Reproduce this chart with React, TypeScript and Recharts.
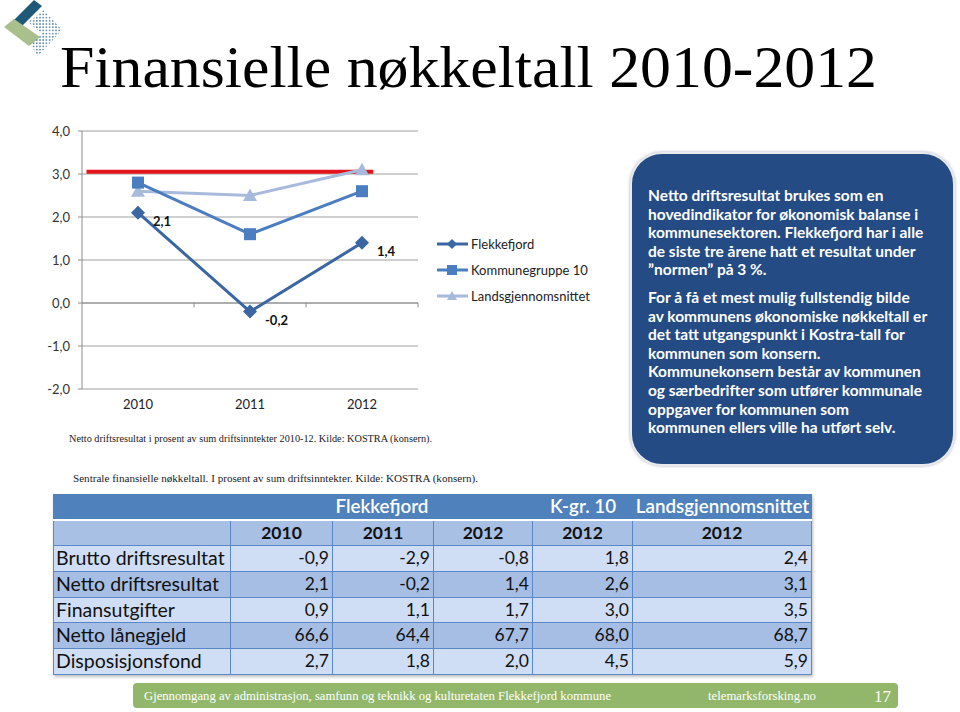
import React from "react";
import {
  LineChart,
  Line,
  XAxis,
  YAxis,
  CartesianGrid,
  ReferenceLine,
  LabelList,
} from "recharts";

// chart data
const years = ["2010", "2011", "2012"];
const flekkefjord = [2.1, -0.2, 1.4];
const kommunegruppe10 = [2.8, 1.6, 2.6];
const landsgjennomsnitt = [2.6, 2.5, 3.1];
const yTicks = [-2, -1, 0, 1, 2, 3, 4];
const normen = 3.05;

const seriesNames = ["Flekkefjord", "Kommunegruppe 10", "Landsgjennomsnittet"];
const seriesColors = ["#3a66a3", "#4a7ec0", "#a8badb"];

// table data
const tableRows = [
  "Brutto driftsresultat",
  "Netto driftsresultat",
  "Finansutgifter",
  "Netto lånegjeld",
  "Disposisjonsfond",
];
const flek2010 = [-0.9, 2.1, 0.9, 66.6, 2.7];
const flek2011 = [-2.9, -0.2, 1.1, 64.4, 1.8];
const flek2012 = [-0.8, 1.4, 1.7, 67.7, 2.0];
const kgr2012 = [1.8, 2.6, 3.0, 68.0, 4.5];
const land2012 = [2.4, 3.1, 3.5, 68.7, 5.9];

const boxPara1 = [
  "Netto driftsresultat brukes som en",
  "hovedindikator for økonomisk balanse i",
  "kommunesektoren. Flekkefjord har i alle",
  "de siste tre årene hatt et resultat under",
  "”normen” på 3 %.",
];
const boxPara2 = [
  "For å få et mest mulig fullstendig bilde",
  "av kommunens økonomiske nøkkeltall er",
  "det tatt utgangspunkt i Kostra-tall for",
  "kommunen som konsern.",
  "Kommunekonsern består av kommunen",
  "og særbedrifter som utfører kommunale",
  "oppgaver for kommunen som",
  "kommunen ellers ville ha utført selv.",
];

const chartData = years.map((year, i) => ({
  x: i,
  year,
  flek: flekkefjord[i],
  kg10: kommunegruppe10[i],
  lands: landsgjennomsnitt[i],
}));

const comma = (v: number) => v.toFixed(1).replace(".", ",");
const sans = "Lato, 'Open Sans', sans-serif";
const serif = "'Liberation Serif', 'DejaVu Serif', serif";

const Diamond = ({ cx, cy, fill, s = 7 }: any) => (
  <path d={`M${cx},${cy - s}L${cx + s},${cy}L${cx},${cy + s}L${cx - s},${cy}Z`} fill={fill} />
);
const Square = ({ cx, cy, fill, s = 6 }: any) => (
  <rect x={cx - s} y={cy - s} width={s * 2} height={s * 2} fill={fill} />
);
const Triangle = ({ cx, cy, fill, s = 7 }: any) => (
  <path d={`M${cx},${cy - s}L${cx + s},${cy + s * 0.8}L${cx - s},${cy + s * 0.8}Z`} fill={fill} />
);
const markers = [Diamond, Square, Triangle];

const FlekLabel = (p: any) => (
  <text
    x={p.x + 15}
    y={p.y + 13}
    fontSize={13}
    fontWeight="bold"
    fill="#111"
    fontFamily={sans}
  >
    {comma(p.value)}
  </text>
);

function Logo() {
  return (
    <svg width={70} height={60} style={{ position: "absolute", left: 0, top: 0 }}>
      <defs>
        <pattern id="dots" width="3.2" height="3.2" patternUnits="userSpaceOnUse">
          <circle cx="1.6" cy="1.6" r="0.9" fill="#4e7f9c" />
        </pattern>
      </defs>
      <polygon points="14,20 34,0 42,6 21,27" fill="#1e5a78" />
      <polygon points="4,27 14,19 40,37 29,46" fill="#a9c08c" />
      <polygon points="28,22 44,10 62,30 38,56 30,44 42,34" fill="url(#dots)" />
    </svg>
  );
}

function ChartBlock() {
  return (
    <div style={{ position: "absolute", left: 0, top: 100 }}>
      <LineChart
        width={430}
        height={330}
        data={chartData}
        margin={{ top: 31, right: 12, bottom: 0, left: 0 }}
        style={{ fontFamily: sans }}
      >
        <CartesianGrid vertical={false} stroke="#a0a0a0" strokeWidth={1} />
        <XAxis
          dataKey="x"
          type="number"
          domain={[-0.5, 2.5]}
          ticks={[0, 1, 2]}
          tickFormatter={(v: number) => years[v]}
          axisLine={false}
          tickLine={false}
          height={41}
          tick={{ fontSize: 13, fill: "#222" }}
          dy={3}
        />
        <YAxis
          domain={[-2, 4]}
          ticks={yTicks}
          tickFormatter={comma}
          width={82}
          stroke="#8c8c8c"
          tickSize={4}
          tickMargin={8}
          tick={{ fontSize: 13, fill: "#333" }}
        />
        <ReferenceLine y={0} stroke="#8c8c8c" />
        {[0.5, 1.5, 2.5].map((v) => (
          <ReferenceLine
            key={v}
            segment={[
              { x: v, y: 0 },
              { x: v, y: -0.1 },
            ]}
            stroke="#8c8c8c"
          />
        ))}
        <ReferenceLine
          segment={[
            { x: -0.46, y: normen },
            { x: 2.1, y: normen },
          ]}
          stroke="#e3141b"
          strokeWidth={4}
        />
        <Line
          dataKey="lands"
          stroke={seriesColors[2]}
          strokeWidth={3}
          isAnimationActive={false}
          dot={(p: any) => <Triangle key={`t${p.index}`} cx={p.cx} cy={p.cy} fill={seriesColors[2]} />}
        />
        <Line
          dataKey="kg10"
          stroke={seriesColors[1]}
          strokeWidth={3}
          isAnimationActive={false}
          dot={(p: any) => <Square key={`s${p.index}`} cx={p.cx} cy={p.cy} fill={seriesColors[1]} />}
        />
        <Line
          dataKey="flek"
          stroke={seriesColors[0]}
          strokeWidth={3}
          isAnimationActive={false}
          dot={(p: any) => <Diamond key={`d${p.index}`} cx={p.cx} cy={p.cy} fill={seriesColors[0]} />}
        >
          <LabelList dataKey="flek" content={FlekLabel} />
        </Line>
      </LineChart>
      <div style={{ position: "absolute", left: 437, top: 131 }}>
        {seriesNames.map((name, i) => {
          const M = markers[i];
          return (
            <div key={name} style={{ display: "flex", alignItems: "center", height: 26 }}>
              <svg width={32} height={16}>
                <line x1={0} y1={8} x2={31} y2={8} stroke={seriesColors[i]} strokeWidth={3} />
                <M cx={15} cy={8} fill={seriesColors[i]} s={5} />
              </svg>
              <span style={{ fontFamily: sans, fontSize: 13, color: "#222", marginLeft: 2 }}>{name}</span>
            </div>
          );
        })}
      </div>
    </div>
  );
}

function InfoBox() {
  const line = (t: string) => (
    <div key={t} style={{ height: 18.6, lineHeight: "18.6px", whiteSpace: "nowrap" }}>
      {t}
    </div>
  );
  return (
    <div
      style={{
        position: "absolute",
        left: 630,
        top: 152,
        width: 325,
        height: 314,
        borderRadius: 32,
        background: "#244b84",
        border: "2px solid #e8eaee",
        boxShadow: "0 0 3px #aab",
        boxSizing: "border-box",
        color: "#fff",
        fontFamily: sans,
        fontWeight: "bold",
        fontSize: 15.5,
        padding: "32px 0 0 16px",
      }}
    >
      {boxPara1.map(line)}
      <div style={{ height: 9 }} />
      {boxPara2.map(line)}
    </div>
  );
}

const colW = [178, 102, 101, 99, 100, 179];
const rowH = 24.7;

function DataTable() {
  const cols = [flek2010, flek2011, flek2012, kgr2012, land2012];
  const border = "1px solid #5a88c6";
  const cell = (content: any, w: number, align: string, extra: any = {}) => (
    <div
      style={{
        width: w,
        height: rowH,
        lineHeight: `${rowH}px`,
        textAlign: align as any,
        boxSizing: "border-box",
        padding: "0 3px",
        whiteSpace: "nowrap",
        overflow: "hidden",
        ...extra,
      }}
    >
      {content}
    </div>
  );
  return (
    <div
      style={{
        position: "absolute",
        left: 53,
        top: 494,
        width: 759,
        fontFamily: sans,
        fontSize: 17.5,
        color: "#111",
        boxShadow: "1px 2px 3px rgba(0,0,0,0.25)",
      }}
    >
      <div style={{ display: "flex", background: "#4f81bd", color: "#fff", fontWeight: 600, fontSize: 18.8, borderBottom: "2px solid #fff" }}>
        {cell("", colW[0], "center")}
        {cell("Flekkefjord", colW[1] + colW[2] + colW[3], "center")}
        {cell("K-gr. 10", colW[4], "center")}
        {cell("Landsgjennomsnittet", colW[5], "center", { padding: 0 })}
      </div>
      <div style={{ display: "flex", background: "#a8c0e4", fontWeight: "bold" }}>
        {cell("", colW[0], "center", { borderRight: border, borderLeft: border })}
        {["2010", "2011", "2012", "2012", "2012"].map((y, i) =>
          <React.Fragment key={i}>{cell(y, colW[i + 1], "center", { borderRight: border })}</React.Fragment>
        )}
      </div>
      {tableRows.map((name, r) => (
        <div
          key={name}
          style={{
            display: "flex",
            background: r % 2 === 0 ? "#d0def5" : "#a6bee4",
            borderTop: border,
          }}
        >
          {cell(name, colW[0], "left", { borderRight: border, borderLeft: border, fontSize: 19.5, padding: "0 2px" })}
          {cols.map((c, i) => (
            <React.Fragment key={i}>{cell(comma(c[r]), colW[i + 1], "right", { borderRight: border })}</React.Fragment>
          ))}
        </div>
      ))}
      <div style={{ borderTop: border }} />
    </div>
  );
}

export default function App() {
  return (
    <div
      style={{
        position: "absolute",
        left: 0,
        top: 0,
        width: 960,
        height: 712,
        overflow: "hidden",
        background: "#fff",
      }}
    >
      <Logo />
      <svg width={960} height={712} style={{ position: "absolute", left: 0, top: 0 }}>
        <text x={60} y={87} fontFamily={serif} fontSize={60} fill="#000" textLength={817} lengthAdjust="spacingAndGlyphs">
          Finansielle nøkkeltall 2010-2012
        </text>
        <text x={69} y={442} fontFamily={serif} fontSize={11} fill="#222" textLength={363} lengthAdjust="spacingAndGlyphs">
          Netto driftsresultat i prosent av sum driftsinntekter 2010-12. Kilde: KOSTRA (konsern).
        </text>
        <text x={73} y={482} fontFamily={serif} fontSize={11} fill="#222" textLength={405} lengthAdjust="spacingAndGlyphs">
          Sentrale finansielle nøkkeltall. I prosent av sum driftsinntekter. Kilde: KOSTRA (konsern).
        </text>
      </svg>
      <ChartBlock />
      <InfoBox />
      <DataTable />
      <svg width={960} height={712} style={{ position: "absolute", left: 0, top: 0, pointerEvents: "none" }}>
        <rect x={133} y={683} width={765} height={25} rx={4} fill="#93b76a" />
        <text x={144} y={700} fontFamily={serif} fontSize={13} fill="#fff" textLength={467} lengthAdjust="spacingAndGlyphs">
          Gjennomgang av administrasjon, samfunn og teknikk og kulturetaten Flekkefjord kommune
        </text>
        <text x={708} y={700} fontFamily={serif} fontSize={13} fill="#fff" textLength={108} lengthAdjust="spacingAndGlyphs">
          telemarksforsking.no
        </text>
        <text x={874} y={702} fontFamily={serif} fontSize={17} fill="#fff">
          17
        </text>
      </svg>
    </div>
  );
}
